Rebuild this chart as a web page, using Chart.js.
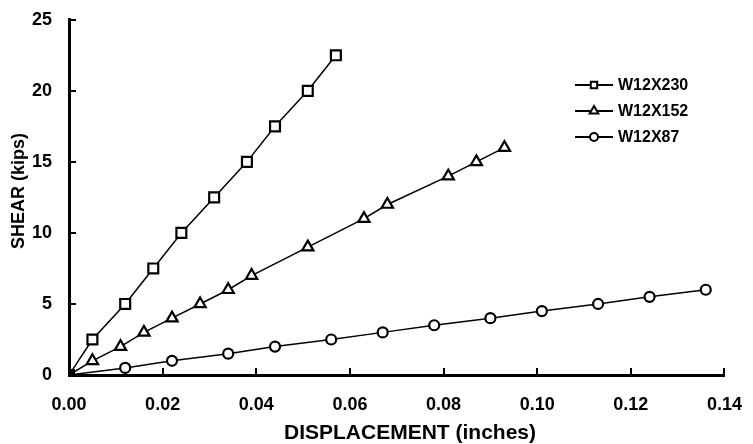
<!DOCTYPE html>
<html>
<head>
<meta charset="utf-8">
<script src="https://cdn.jsdelivr.net/npm/chart.js@4.4.1/dist/chart.umd.min.js"></script>
<style>
  html, body { margin: 0; padding: 0; background: #fff; }
  #wrap { width: 753px; height: 444px; }
</style>
</head>
<body>
<div id="wrap"><canvas id="shearChart" width="753" height="444"></canvas></div>
<script>
// Data
const seriesNames = ['W12X230', 'W12X152', 'W12X87'];
const markerStyles = ['rect', 'triangle', 'circle'];
const markerSizes = [7, 6.5, 5];

const w230Disp  = [0, 0.005, 0.012, 0.018, 0.024, 0.031, 0.038, 0.044, 0.051, 0.057];
const w230Shear = [0, 2.5, 5, 7.5, 10, 12.5, 15, 17.5, 20, 22.5];

const w152Disp  = [0, 0.005, 0.011, 0.016, 0.022, 0.028, 0.034, 0.039, 0.051, 0.063, 0.068, 0.081, 0.087, 0.093];
const w152Shear = [0, 1, 2, 3, 4, 5, 6, 7, 9, 11, 12, 14, 15, 16];

const w87Disp  = [0, 0.012, 0.022, 0.034, 0.044, 0.056, 0.067, 0.078, 0.090, 0.101, 0.113, 0.124, 0.136];
const w87Shear = [0, 0.5, 1, 1.5, 2, 2.5, 3, 3.5, 4, 4.5, 5, 5.5, 6];

const xTicks = [0, 0.02, 0.04, 0.06, 0.08, 0.10, 0.12, 0.14];
const yTicks = [0, 5, 10, 15, 20, 25];

const xTitle = 'DISPLACEMENT (inches)';
const yTitle = 'SHEAR (kips)';

const FONT = 'Liberation Sans, Arial, sans-serif';

function toPoints(xs, ys) {
  return xs.map((x, i) => ({ x: x, y: ys[i] }));
}

const allDisp = [w230Disp, w152Disp, w87Disp];
const allShear = [w230Shear, w152Shear, w87Shear];

const datasets = seriesNames.map((name, i) => ({
  label: name,
  data: toPoints(allDisp[i], allShear[i]),
  borderColor: '#000',
  borderWidth: 1.5,
  pointStyle: markerStyles[i],
  pointRadius: markerSizes[i],
  pointBorderWidth: 2.2,
  // the three markers pile up at the origin and print as a black square
  pointBackgroundColor: c => (c.dataIndex === 0 ? '#000' : '#fff'),
  pointBorderColor: '#000',
  tension: 0,
  fill: false
}));

// inward ticks on both axes
const axisTicks = {
  id: 'axisTicks',
  afterDraw(chart) {
    const ctx = chart.ctx;
    const xs = chart.scales.x, ys = chart.scales.y;
    ctx.save();
    ctx.strokeStyle = '#000';
    ctx.lineWidth = 2;
    xTicks.forEach(v => {
      const px = Math.round(xs.getPixelForValue(v));
      ctx.beginPath();
      ctx.moveTo(px, ys.bottom);
      ctx.lineTo(px, ys.bottom - 7);
      ctx.stroke();
    });
    yTicks.forEach(v => {
      const py = Math.round(ys.getPixelForValue(v));
      ctx.beginPath();
      ctx.moveTo(xs.left, py);
      ctx.lineTo(xs.left + 7, py);
      ctx.stroke();
    });
    ctx.restore();
  }
};

// axis titles sit a little off the axis centres in the original
const axisTitles = {
  id: 'axisTitles',
  afterDraw(chart) {
    const ctx = chart.ctx;
    ctx.save();
    ctx.fillStyle = '#000';
    ctx.textAlign = 'center';
    ctx.textBaseline = 'middle';
    ctx.font = 'bold 21px ' + FONT;
    ctx.fillText(xTitle, 410, 433);
    ctx.translate(19, 191);
    ctx.rotate(-Math.PI / 2);
    ctx.font = 'bold 18px ' + FONT;
    ctx.fillText(yTitle, 0, 0);
    ctx.restore();
  }
};

// legend with a line through each marker
const lineLegend = {
  id: 'lineLegend',
  afterDraw(chart) {
    const ctx = chart.ctx;
    const x0 = 575, x1 = 613, top = 85, step = 26;
    const legendSizes = [4.5, 5, 4];
    ctx.save();
    chart.data.datasets.forEach((ds, i) => {
      const y = top + i * step;
      ctx.strokeStyle = '#000';
      ctx.lineWidth = 1.8;
      ctx.beginPath();
      ctx.moveTo(x0, y);
      ctx.lineTo(x1, y);
      ctx.stroke();
      ctx.fillStyle = '#fff';
      ctx.lineWidth = 2;
      Chart.helpers.drawPoint(ctx, { pointStyle: ds.pointStyle, radius: legendSizes[i], borderWidth: 2 }, (x0 + x1) / 2, y);
      ctx.fillStyle = '#000';
      ctx.font = 'bold 16px ' + FONT;
      ctx.textBaseline = 'middle';
      ctx.fillText(ds.label, x1 + 5, y + 1);
    });
    ctx.restore();
  }
};

new Chart(document.getElementById('shearChart').getContext('2d'), {
  type: 'scatter',
  data: { datasets: datasets },
  options: {
    responsive: false,
    animation: false,
    showLine: true,
    layout: { padding: { top: 19, right: 21, left: 0, bottom: 0 } },
    plugins: {
      legend: { display: false },
      tooltip: { enabled: false }
    },
    scales: {
      x: {
        type: 'linear',
        min: 0,
        max: 0.14,
        afterBuildTicks: s => { s.ticks = xTicks.map(v => ({ value: v })); },
        afterFit: s => { s.height = 69; },
        border: { display: true, color: '#000', width: 3 },
        grid: { display: false, tickLength: 8 },
        ticks: {
          color: '#000',
          padding: 11,
          maxRotation: 0,
          font: { family: FONT, size: 18, weight: 'bold' },
          callback: v => v.toFixed(2)
        }
      },
      y: {
        type: 'linear',
        min: 0,
        max: 25,
        afterBuildTicks: s => { s.ticks = yTicks.map(v => ({ value: v })); },
        afterFit: s => { s.width = 69; },
        border: { display: true, color: '#000', width: 3 },
        grid: { display: false, tickLength: 8 },
        ticks: {
          color: '#000',
          padding: 9,
          font: { family: FONT, size: 18, weight: 'bold' }
        }
      }
    }
  },
  plugins: [axisTicks, axisTitles, lineLegend]
});
</script>
</body>
</html>
